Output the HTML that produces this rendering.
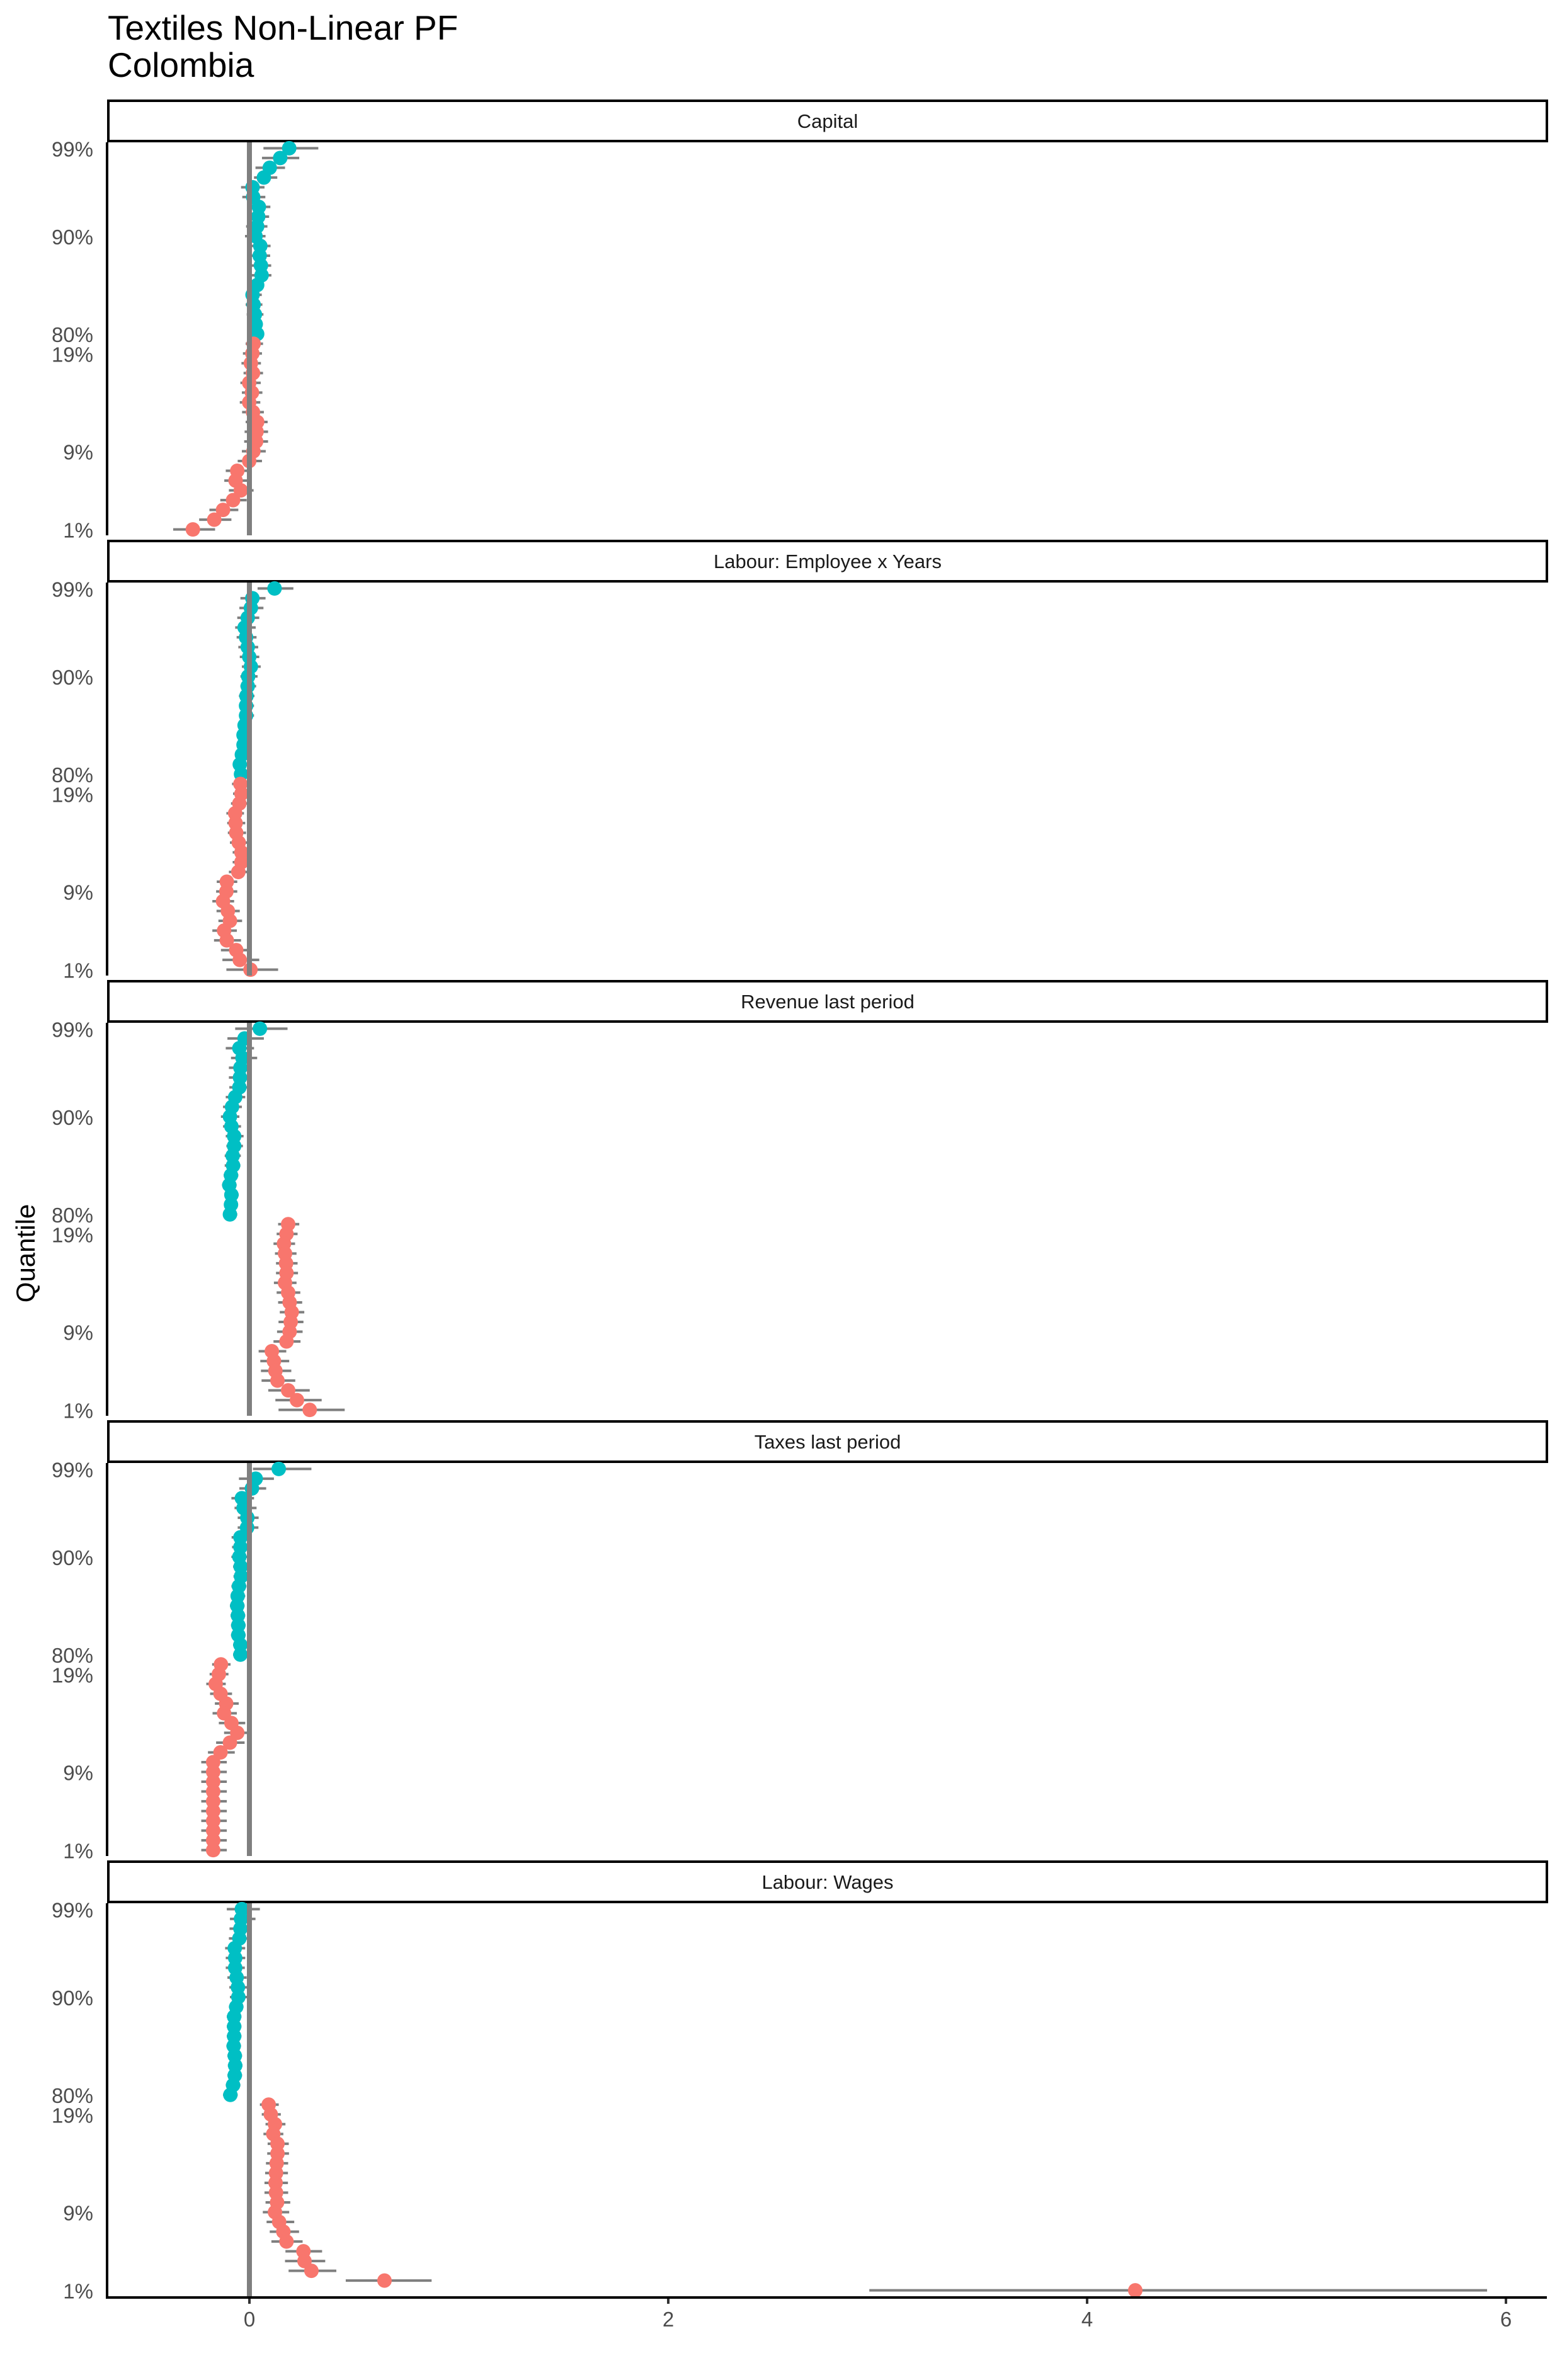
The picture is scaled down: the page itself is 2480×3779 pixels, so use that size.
<!DOCTYPE html>
<html><head><meta charset="utf-8"><title>Textiles Non-Linear PF - Colombia</title>
<style>
html,body{margin:0;padding:0;background:#fff;}
svg{display:block;font-family:"Liberation Sans",Arial,sans-serif;}
</style></head>
<body>
<svg id="chart" width="2480" height="3779" viewBox="0 0 2480 3779" xmlns="http://www.w3.org/2000/svg">
<rect x="0" y="0" width="2480" height="3779" fill="#fff"/>
<text x="171" y="63" font-size="55" fill="#000">Textiles Non-Linear PF</text>
<text x="171" y="122" font-size="55" fill="#000">Colombia</text>
<text transform="translate(55,1990) rotate(-90)" text-anchor="middle" font-size="42" fill="#000">Quantile</text>
<g id="panels"></g>
</svg>
<script>
// ---- data ----
const panelTitles = ["Capital", "Labour: Employee x Years", "Revenue last period", "Taxes last period", "Labour: Wages"];
// row labels top -> bottom
const quantiles = ["99%","98%","97%","96%","95%","94%","93%","92%","91%","90%","89%","88%","87%","86%","85%","84%","83%","82%","81%","80%",
  "20%","19%","18%","17%","16%","15%","14%","13%","12%","11%","10%","9%","8%","7%","6%","5%","4%","3%","2%","1%"];
const shownLabels = ["99%","90%","80%","19%","9%","1%"];
const xTicks = [0, 2, 4, 6];

const capitalEst = [0.19,0.147,0.097,0.069,0.015,0.018,0.045,0.042,0.037,0.029,0.052,0.049,0.055,0.058,0.037,0.015,0.02,0.026,0.03,0.037,
  0.02,0.014,0.007,0.017,-0.001,0.012,-0.001,0.017,0.037,0.034,0.032,0.019,-0.001,-0.058,-0.066,-0.041,-0.078,-0.126,-0.168,-0.27];
const capitalLo = [0.067,0.06,0.029,0.022,-0.04,-0.034,-0.008,-0.011,-0.016,-0.021,0.007,-0.001,0.007,0.012,-0.011,-0.018,-0.018,-0.013,-0.01,-0.008,
  -0.018,-0.031,-0.038,-0.028,-0.043,-0.036,-0.046,-0.035,-0.018,-0.023,-0.025,-0.036,-0.056,-0.113,-0.12,-0.098,-0.139,-0.191,-0.24,-0.364];
const capitalHi = [0.329,0.238,0.17,0.133,0.072,0.076,0.1,0.094,0.086,0.077,0.101,0.099,0.104,0.105,0.069,0.059,0.062,0.067,0.064,0.062,
  0.065,0.06,0.055,0.065,0.054,0.062,0.052,0.069,0.087,0.089,0.089,0.078,0.06,-0.003,-0.008,0.02,-0.013,-0.053,-0.086,-0.164];

const employeeEst = [0.12,0.014,0.007,-0.008,-0.023,-0.016,-0.008,-0.001,0.007,-0.006,-0.008,-0.014,-0.016,-0.016,-0.023,-0.028,-0.028,-0.036,-0.046,-0.04,
  -0.043,-0.038,-0.048,-0.068,-0.066,-0.063,-0.051,-0.038,-0.038,-0.053,-0.108,-0.11,-0.126,-0.103,-0.093,-0.121,-0.108,-0.063,-0.046,0.005];
const employeeLo = [0.039,-0.043,-0.048,-0.058,-0.068,-0.061,-0.053,-0.046,-0.036,-0.043,-0.043,-0.05,-0.048,-0.048,-0.053,-0.058,-0.058,-0.068,-0.078,-0.073,
  -0.083,-0.078,-0.088,-0.11,-0.106,-0.103,-0.093,-0.08,-0.08,-0.098,-0.156,-0.159,-0.177,-0.157,-0.148,-0.177,-0.169,-0.136,-0.129,-0.11];
const employeeHi = [0.21,0.077,0.067,0.047,0.03,0.034,0.042,0.047,0.054,0.039,0.032,0.024,0.022,0.022,0.012,0.007,0.007,-0.003,-0.008,-0.006,
  -0.001,0.002,-0.008,-0.026,-0.02,-0.016,-0.008,0.002,0.002,-0.008,-0.058,-0.058,-0.073,-0.046,-0.035,-0.06,-0.04,0.002,0.047,0.137];

const revenueEst = [0.05,-0.023,-0.048,-0.033,-0.043,-0.045,-0.048,-0.068,-0.083,-0.093,-0.086,-0.073,-0.073,-0.08,-0.078,-0.088,-0.096,-0.086,-0.088,-0.093,
  0.185,0.177,0.165,0.17,0.175,0.177,0.17,0.185,0.192,0.202,0.197,0.192,0.177,0.107,0.117,0.124,0.134,0.185,0.227,0.288];
const revenueLo = [-0.068,-0.105,-0.113,-0.088,-0.098,-0.098,-0.096,-0.113,-0.126,-0.136,-0.126,-0.113,-0.11,-0.118,-0.118,-0.123,-0.131,-0.12,-0.12,-0.126,
  0.137,0.13,0.115,0.122,0.127,0.127,0.117,0.13,0.137,0.145,0.139,0.132,0.115,0.044,0.052,0.055,0.058,0.09,0.124,0.139];
const revenueHi = [0.182,0.069,0.022,0.037,-0.008,-0.011,-0.011,-0.02,-0.036,-0.048,-0.04,-0.028,-0.031,-0.041,-0.043,-0.053,-0.061,-0.051,-0.055,-0.058,
  0.238,0.23,0.218,0.225,0.23,0.232,0.225,0.243,0.252,0.262,0.258,0.254,0.244,0.176,0.19,0.2,0.219,0.288,0.345,0.455];

const taxesEst = [0.14,0.03,0.012,-0.036,-0.028,-0.01,-0.011,-0.043,-0.043,-0.048,-0.042,-0.04,-0.05,-0.056,-0.058,-0.055,-0.053,-0.053,-0.043,-0.043,
  -0.136,-0.146,-0.161,-0.138,-0.111,-0.121,-0.086,-0.058,-0.093,-0.138,-0.173,-0.173,-0.173,-0.173,-0.173,-0.173,-0.173,-0.173,-0.173,-0.173];
const taxesLo = [0.017,-0.05,-0.048,-0.086,-0.071,-0.056,-0.056,-0.085,-0.083,-0.086,-0.078,-0.076,-0.086,-0.09,-0.093,-0.09,-0.088,-0.088,-0.078,-0.078,
  -0.178,-0.19,-0.206,-0.188,-0.165,-0.176,-0.146,-0.121,-0.159,-0.198,-0.23,-0.23,-0.23,-0.23,-0.23,-0.23,-0.23,-0.23,-0.23,-0.23];
const taxesHi = [0.296,0.117,0.08,0.022,0.034,0.044,0.043,-0.003,-0.008,-0.01,-0.008,-0.006,-0.014,-0.02,-0.023,-0.02,-0.018,-0.018,-0.008,-0.008,
  -0.09,-0.1,-0.113,-0.083,-0.051,-0.06,-0.02,-0.008,-0.023,-0.07,-0.108,-0.108,-0.108,-0.108,-0.108,-0.108,-0.108,-0.108,-0.108,-0.108];

const wagesEst = [-0.036,-0.04,-0.043,-0.048,-0.07,-0.068,-0.068,-0.061,-0.055,-0.053,-0.063,-0.073,-0.073,-0.073,-0.075,-0.07,-0.068,-0.07,-0.078,-0.091,
  0.092,0.102,0.122,0.114,0.134,0.134,0.13,0.127,0.125,0.127,0.132,0.122,0.142,0.162,0.177,0.258,0.263,0.296,0.645,4.23];
const wagesLo = [-0.108,-0.093,-0.095,-0.098,-0.116,-0.113,-0.113,-0.105,-0.096,-0.093,-0.098,-0.108,-0.108,-0.108,-0.11,-0.105,-0.103,-0.105,-0.113,-0.126,
  0.05,0.059,0.077,0.067,0.087,0.085,0.079,0.075,0.072,0.072,0.077,0.064,0.082,0.097,0.105,0.172,0.17,0.187,0.46,2.96];
const wagesHi = [0.05,0.029,-0.008,-0.008,-0.02,-0.02,-0.022,-0.013,-0.008,-0.008,-0.028,-0.038,-0.038,-0.038,-0.04,-0.035,-0.033,-0.035,-0.043,-0.056,
  0.14,0.15,0.172,0.162,0.188,0.189,0.185,0.184,0.184,0.185,0.195,0.19,0.214,0.237,0.254,0.347,0.362,0.415,0.87,5.91];

const panelEst = [capitalEst, employeeEst, revenueEst, taxesEst, wagesEst];
const panelLo = [capitalLo, employeeLo, revenueLo, taxesLo, wagesLo];
const panelHi = [capitalHi, employeeHi, revenueHi, taxesHi, wagesHi];

// ---- layout ----
const NS = "http://www.w3.org/2000/svg";
const plotLeft = 172, plotRight = 2456;
const firstStripTop = 158, panelPeriod = 699, stripH = 68, plotH = 624;
const x0px = 396, unitPx = 332.5;
function xScale(v){ return x0px + v * unitPx; }
function yScale(i, top){ const step = plotH / (quantiles.length - 1 + 1.2); return top + (0.6 + i) * step; }
function mk(tag, attrs, parent){ const e = document.createElementNS(NS, tag); for (const k in attrs) e.setAttribute(k, attrs[k]); parent.appendChild(e); return e; }

const root = document.getElementById("panels");
panelTitles.forEach(function(title, p){
  const stripTop = firstStripTop + p * panelPeriod;
  const top = stripTop + stripH;
  const bottom = top + plotH;
  const g = mk("g", {}, root);
  
  

  const strip = mk("rect", {x: plotLeft, y: stripTop + 2, width: plotRight - plotLeft, height: stripH - 4, fill: "#fff", stroke: "#000", "stroke-width": 4}, g);
  
  
  const st = mk("text", {x: (plotLeft + plotRight) / 2, y: stripTop + stripH / 2 + 11, "text-anchor": "middle", "font-size": 31, fill: "#1a1a1a"}, g);
  st.textContent = title;
  
  

  const ax = mk("line", {x1: plotLeft - 2, x2: plotLeft - 2, y1: top, y2: bottom, stroke: "#000", "stroke-width": 4}, g);
  
  

  quantiles.forEach(function(q, i){
    if (shownLabels.indexOf(q) < 0) return;
    const t = mk("text", {x: 148, y: yScale(i, top) + 13, "text-anchor": "end", "font-size": 33, fill: "#4d4d4d"}, g);
    t.textContent = q;
    
    
  });

  const est = panelEst[p], lo = panelLo[p], hi = panelHi[p];
  est.forEach(function(v, i){
    const y = yScale(i, top);
    const b = mk("line", {x1: xScale(lo[i]), x2: xScale(hi[i]), y1: y, y2: y, stroke: "#7f7f7f", "stroke-width": 4}, g);
    
    
  });
  est.forEach(function(v, i){
    const c = mk("circle", {cx: xScale(v), cy: yScale(i, top), r: 11.5, fill: i < 20 ? "#00BFC4" : "#F8766D"}, g);
    
    
  });
  const z = mk("line", {x1: xScale(0), x2: xScale(0), y1: top, y2: bottom, stroke: "#7f7f7f", "stroke-width": 8}, g);
  
  

  if (p === panelTitles.length - 1) {
    const xa = mk("line", {x1: plotLeft - 4, x2: plotRight, y1: bottom + 2, y2: bottom + 2, stroke: "#000", "stroke-width": 4}, g);
    
    
    xTicks.forEach(function(tv){
      const tk = mk("line", {x1: xScale(tv), x2: xScale(tv), y1: bottom + 4, y2: bottom + 12, stroke: "#333", "stroke-width": 4}, g);
      
      
      const tl = mk("text", {x: xScale(tv), y: bottom + 48, "text-anchor": "middle", "font-size": 33, fill: "#4d4d4d"}, g);
      tl.textContent = String(tv);
      
      
    });
  }
});
</script>
</body></html>
